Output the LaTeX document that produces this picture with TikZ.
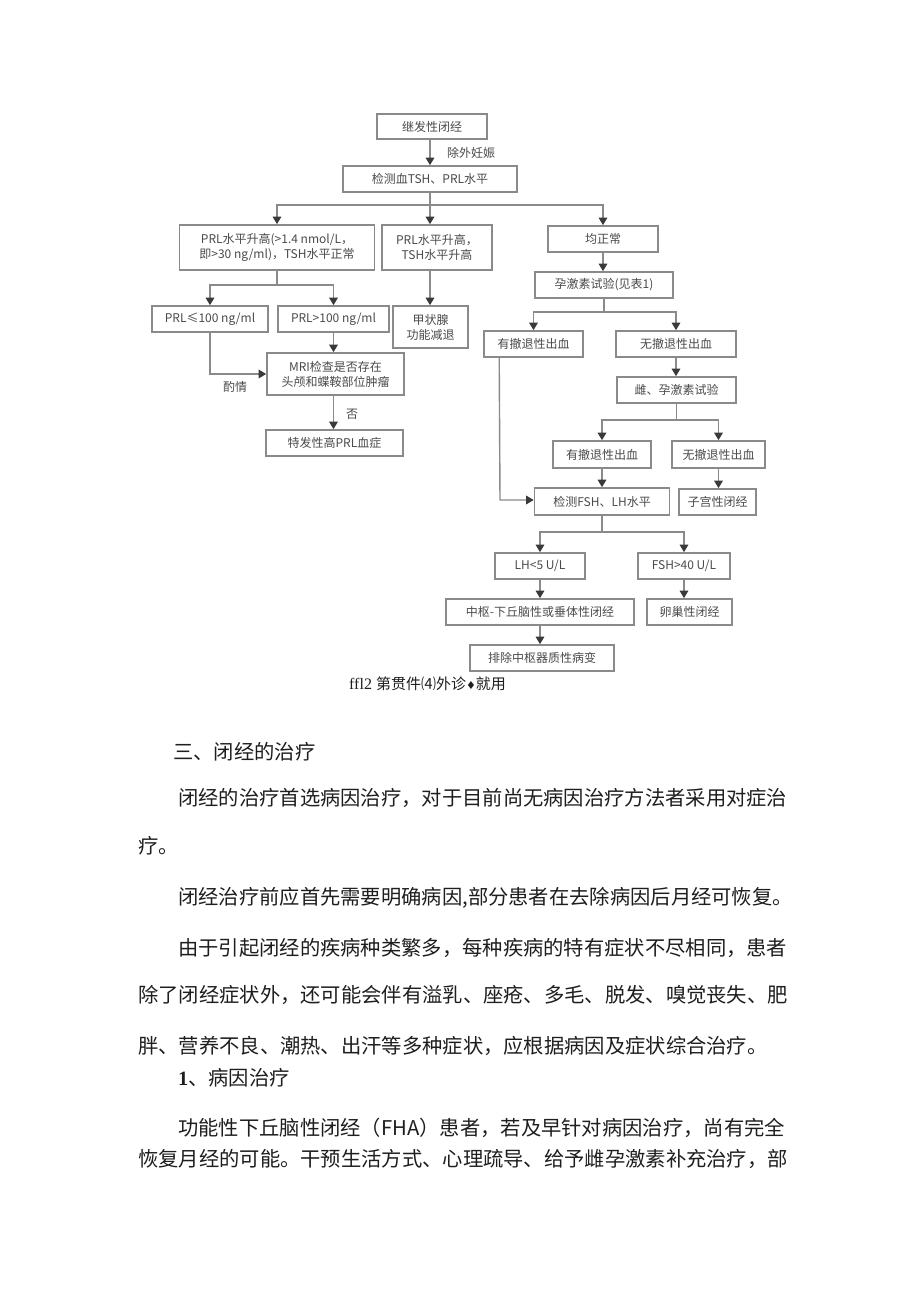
\documentclass[tikz,border=0pt]{standalone}
\usepackage{fontspec}
\usetikzlibrary{arrows.meta,calc}
\newfontfamily\cjk{Noto Sans CJK SC}
\newfontfamily\serifl{Liberation Serif}
\newfontfamily\dejavu{DejaVu Sans}
\XeTeXlinebreaklocale "zh"
\XeTeXlinebreakskip=0pt plus 2pt
\definecolor{boxgray}{HTML}{8A8A8A}
\definecolor{txtgray}{HTML}{4A4A4A}
\definecolor{tipgray}{HTML}{3A3A3A}
\definecolor{bodyblack}{HTML}{1E1E1E}
\tikzset{
  fbox/.style={draw=boxgray, line width=1.6pt, fill=white, inner sep=0pt, align=center,
    text=txtgray, font=\cjk\fontsize{12}{15}\selectfont},
  conn/.style={draw=boxgray, line width=1.4pt},
  arr/.style={conn, -{Triangle[length=7.5pt,width=8.5pt,fill=tipgray,color=tipgray]}},
  lbl/.style={inner sep=0pt, text=txtgray, font=\cjk\fontsize{12}{14}\selectfont},
  bodyline/.style={anchor=west, inner sep=0pt, text=bodyblack, font=\cjk\fontsize{20.3}{24}\selectfont},
}
\begin{document}
\begin{tikzpicture}[x=1pt,y=-1pt]
\useasboundingbox (0,0) rectangle (920,1301);
\fill[white] (0,0) rectangle (920,1301);

% ---------- flowchart ----------
\node[fbox, minimum width=110, minimum height=25] (n1) at (432,126.5) {继发性闭经};
\node[fbox, minimum width=174, minimum height=26] (n2) at (430,179) {检测血TSH、PRL水平};
\node[fbox, minimum width=195, minimum height=45] (n3) at (277,247.5) {PRL水平升高(>1.4 nmol/L，\\即>30 ng/ml)，TSH水平正常};
\node[fbox, minimum width=110, minimum height=45] (n4) at (437,247.5) {PRL水平升高，\\TSH水平升高};
\node[fbox, minimum width=110, minimum height=26] (n5) at (603,239) {均正常};
\node[fbox, minimum width=138, minimum height=26] (n6) at (604,285) {孕激素试验(见表1)};
\node[fbox, minimum width=99, minimum height=26] (n7) at (533.5,344) {有撤退性出血};
\node[fbox, minimum width=120, minimum height=26] (n8) at (676,344) {无撤退性出血};
\node[fbox, minimum width=119, minimum height=26] (n9) at (676.5,390) {雌、孕激素试验};
\node[fbox, minimum width=98, minimum height=27] (n10) at (602,454.5) {有撤退性出血};
\node[fbox, minimum width=93, minimum height=27] (n11) at (718.5,454.5) {无撤退性出血};
\node[fbox, minimum width=135, minimum height=27] (n12) at (602,501.5) {检测FSH、LH水平};
\node[fbox, minimum width=77, minimum height=26] (n13) at (717.5,502) {子宫性闭经};
\node[fbox, minimum width=90, minimum height=26] (n14) at (540,566) {LH<5 U/L};
\node[fbox, minimum width=92, minimum height=26] (n15) at (684,566) {FSH>40 U/L};
\node[fbox, minimum width=188, minimum height=26] (n16) at (540,612) {中枢-下丘脑性或垂体性闭经};
\node[fbox, minimum width=85, minimum height=26] (n17) at (689.5,612) {卵巢性闭经};
\node[fbox, minimum width=144, minimum height=26] (n18) at (542,658) {排除中枢器质性病变};
\node[fbox, minimum width=116, minimum height=26] (n19) at (210,319) {PRL≤100 ng/ml};
\node[fbox, minimum width=111, minimum height=26] (n20) at (333.5,319) {PRL>100 ng/ml};
\node[fbox, minimum width=75, minimum height=42] (n21) at (430.5,327) {甲状腺\\功能减退};
\node[fbox, minimum width=137, minimum height=42] (n22) at (335.5,374) {MRI检查是否存在\\头颅和蝶鞍部位肿瘤};
\node[fbox, minimum width=137, minimum height=26] (n23) at (334.5,443) {特发性高PRL血症};

% junction points
\coordinate (j1) at (430,205);
\coordinate (j2) at (604,312);
\coordinate (j3) at (676.5,420);
\coordinate (j4) at (602,532);
\coordinate (j5) at (277,285);
\coordinate (j6) at (500,500);

% connectors
\draw[arr] (n1.south -| n2.north) -- (n2.north);
\node[lbl, anchor=west] (l1) at (447,153) {除外妊娠};
\draw[conn] (n2.south) -- (j1);
\draw[arr] (j1) -| (n3.north);
\draw[arr] (j1) -- (j1 |- n4.north);
\draw[arr] (j1) -| (n5.north);
\draw[arr] (n5.south) -- (n5.south |- n6.north);
\draw[conn] (n6.south) -- (j2);
\draw[arr] (j2) -| (n7.north);
\draw[arr] (j2) -| (n8.north);
\draw[arr] (n8.south) -- (n8.south |- n9.north);
\draw[conn] (n9.south) -- (j3);
\draw[arr] (j3) -| (n10.north);
\draw[arr] (j3) -| (n11.north);
\draw[arr] (n10.south) -- (n10.south |- n12.north);
\draw[arr] (n11.south) -- (n11.south |- n13.north);
\draw[arr] ([xshift=16pt]n7.south west) -- (j6) -- (j6 -| n12.west);
\draw[conn] (n12.south) -- (j4);
\draw[arr] (j4) -| (n14.north);
\draw[arr] (j4) -| (n15.north);
\draw[arr] (n14.south) -- (n16.north);
\draw[arr] (n15.south) -- (n15.south |- n17.north);
\draw[arr] (n16.south) -- (n16.south |- n18.north);
\draw[conn] (n3.south) -- (j5);
\draw[arr] (j5) -| (n19.north);
\draw[arr] (j5) -| (n20.north);
\draw[arr] (n4.south -| j1) -- (j1 |- n21.north);
\draw[arr] (n20.south) -- (n20.south |- n22.north);
\draw[arr] (n19.south) |- (n22.west);
\node[lbl] (l2) at (235,387) {酌情};
\draw[arr] (n22.south -| n20.south) -- (n20.south |- n23.north);
\node[lbl] (l3) at (352,414) {否};

% caption
\node[anchor=west, inner sep=0pt, text=bodyblack] (cap) at (349,684)
  {\serifl\fontsize{16}{18}\selectfont ffl2 \cjk\fontsize{15}{18}\selectfont 第贯件⑷外诊{\dejavu\fontsize{11}{18}\selectfont ♦}就用};

% ---------- body text ----------
\node[bodyline] (t1) at (173,752) {三、闭经的治疗};
\node[bodyline] (t2) at (178,798) {\makebox[608pt][s]{闭经的治疗首选病因治疗，对于目前尚无病因治疗方法者采用对症治}};
\node[bodyline] (t3) at (138,846) {疗。};
\node[bodyline] (t4) at (178,898) {\makebox[618pt][s]{闭经治疗前应首先需要明确病因,部分患者在去除病因后月经可恢复。}};
\node[bodyline] (t5) at (178,948) {\makebox[608pt][s]{由于引起闭经的疾病种类繁多，每种疾病的特有症状不尽相同，患者}};
\node[bodyline] (t6) at (138,995) {\makebox[648pt][s]{除了闭经症状外，还可能会伴有溢乳、座疮、多毛、脱发、嗅觉丧失、肥}};
\node[bodyline] (t7) at (138,1046) {\makebox[658pt][s]{胖、营养不良、潮热、出汗等多种症状，应根据病因及症状综合治疗。}};
\node[bodyline] (t8) at (178,1078) {{\serifl\bfseries 1}、病因治疗};
\node[bodyline] (t9) at (178,1128) {\makebox[608pt][s]{功能性下丘脑性闭经（FHA）患者，若及早针对病因治疗，尚有完全}};
\node[bodyline] (t10) at (138,1159) {\makebox[648pt][s]{恢复月经的可能。干预生活方式、心理疏导、给予雌孕激素补充治疗，部}};
\end{tikzpicture}
\end{document}
